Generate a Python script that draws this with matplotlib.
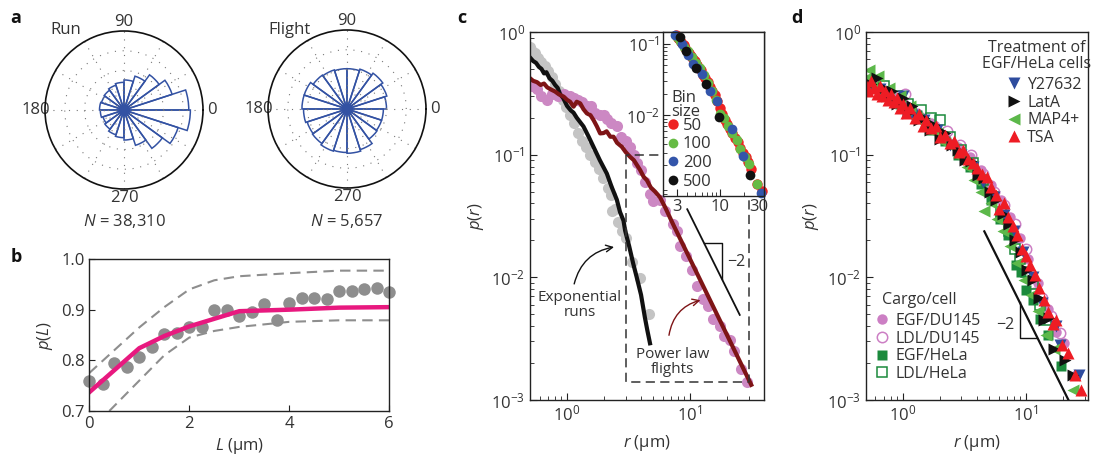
#!/usr/bin/env python3
"""
Run / flight statistics figure (panels a-d).

a: rose plots of step directions for runs and flights
b: p(L) versus run length with confidence band
c: p(r) for runs and flights (log-log) with bin-size inset
d: p(r) for several cargo / cell / treatment combinations

Output: out.png (1095 x 458 px)
"""
import matplotlib
matplotlib.use('Agg')
import matplotlib.pyplot as plt
import numpy as np
from matplotlib.ticker import LogLocator, NullFormatter

# --- Global Style Settings ---
TEXT = '#333333'
matplotlib.rcParams['font.family'] = ['Open Sans', 'DejaVu Sans']
matplotlib.rcParams['mathtext.fontset'] = 'custom'
matplotlib.rcParams['mathtext.rm'] = 'Open Sans'
matplotlib.rcParams['mathtext.it'] = 'Open Sans:italic'
matplotlib.rcParams['mathtext.default'] = 'regular'
matplotlib.rcParams.update({'font.size': 12, 'text.color': TEXT,
                            'axes.labelcolor': TEXT, 'xtick.color': '#222222',
                            'ytick.color': '#222222', 'xtick.labelcolor': TEXT,
                            'ytick.labelcolor': TEXT, 'axes.edgecolor': '#222222',
                            'axes.linewidth': 1.0})

OUTPUT_FILE = 'out.png'
W, H = 1095, 458

# ---------------- panel a: rose plots ----------------
ROSE_ANGLES = [0, 18, 36, 54, 72, 90, 108, 126, 144, 162,
               180, 198, 216, 234, 252, 270, 288, 306, 324, 342]
RUN_ROSE = [0.82, 0.64, 0.55, 0.45, 0.38, 0.35, 0.33, 0.31, 0.30, 0.31,
            0.30, 0.28, 0.30, 0.33, 0.35, 0.38, 0.47, 0.60, 0.72, 0.84]
FLIGHT_ROSE = [0.50, 0.53, 0.56, 0.53, 0.51, 0.51, 0.52, 0.53, 0.57, 0.57,
               0.55, 0.53, 0.54, 0.56, 0.55, 0.56, 0.54, 0.47, 0.46, 0.46]
THETA_LABELS = ['0', '', '', '90', '', '', '180', '', '', '270', '', '']

# ---------------- panel b: p(L) ----------------
B_L = [0, 0.27, 0.5, 0.76, 1.0, 1.25, 1.5, 1.75, 2.0, 2.25, 2.5, 2.75, 3.0,
       3.25, 3.5, 3.75, 4.0, 4.25, 4.5, 4.75, 5.0, 5.25, 5.5, 5.75, 6.0]
B_P = [0.760, 0.753, 0.794, 0.786, 0.806, 0.826, 0.851, 0.854, 0.865, 0.865,
       0.900, 0.900, 0.888, 0.896, 0.912, 0.880, 0.913, 0.923, 0.923, 0.922,
       0.936, 0.936, 0.940, 0.943, 0.935]
FIT_L = [0, 1, 1.5, 2, 2.5, 3, 4, 5, 6]
FIT_P = [0.737, 0.824, 0.848, 0.867, 0.882, 0.897, 0.900, 0.904, 0.905]
UP_L = [0, 0.5, 1, 1.5, 2, 2.5, 3, 4, 5, 6]
UP_P = [0.775, 0.820, 0.865, 0.905, 0.940, 0.958, 0.966, 0.972, 0.977, 0.977]
LO_L = [0.4, 1, 1.5, 2, 2.5, 3, 4, 5, 6]
LO_P = [0.700, 0.760, 0.810, 0.845, 0.858, 0.866, 0.876, 0.879, 0.879]

# ---------------- panel c: runs and flights ----------------
RUN_R = [0.50, 0.52, 0.55, 0.58, 0.62, 0.66, 0.70, 0.75, 0.80, 0.86,
         0.92, 0.98, 1.05, 1.13, 1.22, 1.32, 1.42, 1.55, 1.68, 1.83, 1.98,
         2.15, 2.27, 2.33, 2.45, 2.62, 2.80, 3.00, 3.37, 3.93, 4.60]
RUN_P = [0.76, 0.70, 0.68, 0.61, 0.57, 0.53, 0.48, 0.43, 0.38, 0.33,
         0.28, 0.245, 0.21, 0.18, 0.15, 0.13, 0.115, 0.10, 0.087, 0.076,
         0.064, 0.053, 0.047, 0.035, 0.036, 0.028, 0.024, 0.021, 0.0134,
         0.0098, 0.005]
RUN_FIT_R = [0.50, 0.53, 0.56, 0.59, 0.62, 0.65, 0.68, 0.72, 0.76, 0.80,
             0.84, 0.88, 0.93, 1.0, 1.07, 1.13, 1.2, 1.36, 1.5, 1.64, 1.85,
             2.11, 2.3, 2.54, 2.7, 2.88, 2.97, 3.2, 3.45, 3.69, 4.0, 4.3,
             4.5, 4.73]
RUN_FIT_P = [0.62, 0.58, 0.56, 0.52, 0.50, 0.46, 0.47, 0.42, 0.40, 0.37,
             0.35, 0.31, 0.29, 0.25, 0.23, 0.22, 0.20, 0.17, 0.14, 0.116,
             0.09, 0.07, 0.055, 0.043, 0.034, 0.029, 0.024, 0.018, 0.013,
             0.010, 0.0072, 0.0047, 0.0037, 0.0029]
FLIGHT_R = [0.52, 0.57, 0.62, 0.69, 0.75, 0.85, 0.95, 1.05, 1.13, 1.22,
            1.32, 1.45, 1.56, 1.70, 1.85, 2.0, 2.11, 2.3, 2.54, 2.75, 3.0,
            3.26, 3.5, 3.69, 4.0, 4.3, 4.73, 5.04, 5.7, 6.3, 7.3, 7.8, 8.3,
            9.2, 10.3, 11.5, 12.8, 14.0, 15.5, 17.4, 19.0, 21.0, 23.0, 26.0,
            29.0]
FLIGHT_P = [0.36, 0.34, 0.30, 0.28, 0.31, 0.30, 0.31, 0.30, 0.29, 0.28,
            0.27, 0.25, 0.25, 0.22, 0.21, 0.21, 0.197, 0.18, 0.17, 0.14, 0.13,
            0.116, 0.10, 0.085, 0.075, 0.06, 0.048, 0.042, 0.043, 0.035, 0.027,
            0.024, 0.018, 0.015, 0.0115, 0.0085, 0.0066, 0.0058, 0.0046,
            0.004, 0.0033, 0.0031, 0.0025, 0.0018, 0.0014]
FLIGHT_FIT_R = [0.50, 0.53, 0.57, 0.61, 0.65, 0.69, 0.74, 0.80, 0.86, 0.94,
                1.0, 1.06, 1.13, 1.2, 1.28, 1.36, 1.45, 1.55, 1.65, 1.75,
                1.86, 1.98, 2.1, 2.25, 2.39, 2.55, 2.79, 3.0, 3.26, 3.5, 3.93,
                4.2, 4.46, 4.8, 5.2, 5.7, 6.3, 7.3, 31.5]
FLIGHT_FIT_P = [0.42, 0.40, 0.39, 0.37, 0.38, 0.354, 0.34, 0.327, 0.31,
                0.297, 0.28, 0.27, 0.246, 0.27, 0.262, 0.235, 0.217, 0.21,
                0.19, 0.17, 0.149, 0.15, 0.155, 0.14, 0.14, 0.125, 0.116,
                0.105, 0.096, 0.09, 0.075, 0.066, 0.062, 0.054, 0.05, 0.045,
                0.037, 0.027, 0.00133]
BOX_R = [3, 3, 30, 30, 3]
BOX_P = [0.1, 0.0014, 0.0014, 0.1, 0.1]
SLOPE_C_R = [9.5, 25.4]
SLOPE_C_P = [0.0359, 0.00494]
TRI_C_R = [13.06, 18.3, 18.3]
TRI_C_P = [0.019, 0.019, 0.00968]

# inset: bin sizes
BIN50_R = [2.9, 3.05, 3.2, 3.4, 3.6, 3.8, 4.0, 4.2, 4.45, 4.7, 5.0, 5.3, 5.6,
           5.9, 6.3, 6.7, 7.1, 7.6, 8.1, 8.7, 9.3, 10.0, 10.7, 11.5, 12.4,
           13.3, 14.3, 15.4, 16.6, 17.9, 19.3, 20.8, 22.4, 24.2, 28.5, 33.5]
BIN50_P = [0.13, 0.12, 0.115, 0.105, 0.095, 0.088, 0.08, 0.075, 0.068, 0.061,
           0.057, 0.05, 0.046, 0.043, 0.037, 0.033, 0.029, 0.025, 0.022,
           0.019, 0.016, 0.0125, 0.0105, 0.0085, 0.0075, 0.0064, 0.0057,
           0.0049, 0.0042, 0.0035, 0.003, 0.0026, 0.0022, 0.0018, 0.0011,
           0.00088]
BIN100_R = [3.0, 3.3, 3.7, 4.1, 4.6, 5.1, 5.7, 6.4, 7.2, 8.0, 9.0, 10.2,
            11.3, 12.8, 14.3, 16.1, 18.0, 20.3, 22.8, 29.0]
BIN100_P = [0.125, 0.108, 0.09, 0.078, 0.064, 0.053, 0.045, 0.036, 0.028,
            0.022, 0.0165, 0.0105, 0.0092, 0.0071, 0.0057, 0.0045, 0.0034,
            0.0026, 0.0021, 0.0011]
BIN200_R = [2.86, 3.44, 4.1, 4.76, 5.3, 6.06, 7.67, 9.2, 14.1, 19.6, 32.2]
BIN200_P = [0.131, 0.1, 0.0687, 0.0526, 0.046, 0.0373, 0.0218, 0.0157,
            0.0065, 0.0027, 0.00083]
BIN500_R = [3.22, 3.91, 5.17, 6.86, 9.9, 23.3]
BIN500_P = [0.124, 0.0789, 0.0462, 0.0277, 0.0095, 0.00146]

# ---------------- panel d: cargo / cell / treatment ----------------
TSA_R = [0.5, 0.52, 0.55, 0.58, 0.62, 0.65, 0.68, 0.72, 0.76, 0.8, 0.85, 0.9,
         0.95, 1.0, 1.07, 1.15, 1.25, 1.35, 1.45, 1.55, 1.7, 1.85, 2.0, 2.2,
         2.4, 2.6, 2.85, 3.1, 3.4, 3.7, 4.0, 4.4, 4.8, 5.2, 5.7, 6.1, 6.6,
         7.2, 7.8, 8.5, 9.3, 10.1, 10.8, 11.8, 12.8, 14.0, 15.0, 16.5, 17.5,
         19.5, 22.0, 25.0, 28.0]
TSA_P = [0.37, 0.33, 0.40, 0.35, 0.31, 0.36, 0.30, 0.33, 0.28, 0.31, 0.27,
         0.29, 0.24, 0.26, 0.22, 0.24, 0.20, 0.215, 0.17, 0.19, 0.165, 0.17,
         0.14, 0.145, 0.125, 0.13, 0.105, 0.11, 0.092, 0.085, 0.078, 0.07,
         0.066, 0.055, 0.047, 0.036, 0.04, 0.031, 0.026, 0.022, 0.017, 0.015,
         0.0125, 0.0105, 0.0082, 0.0065, 0.0052, 0.0042, 0.0045, 0.0028,
         0.0024, 0.0016, 0.0012]
LATA_R = [0.5, 0.55, 0.62, 0.7, 0.75, 0.82, 0.9, 1.0, 1.1, 1.2, 1.35, 1.5,
          1.65, 1.8, 2.0, 2.2, 2.5, 2.8, 3.2, 3.6, 4.1, 4.6, 5.1, 5.7, 6.5,
          7.3, 8.2, 9.2, 10.2, 11.5, 12.8, 14.0, 15.5, 17.0, 21.0, 24.0]
LATA_P = [0.33, 0.38, 0.42, 0.35, 0.30, 0.33, 0.26, 0.29, 0.22, 0.25, 0.19,
          0.20, 0.16, 0.175, 0.135, 0.15, 0.12, 0.11, 0.09, 0.088, 0.068,
          0.064, 0.05, 0.043, 0.033, 0.027, 0.02, 0.016, 0.0115, 0.0095,
          0.0068, 0.0045, 0.0047, 0.0026, 0.0021, 0.0016]
MAP4_R = [0.5, 0.53, 0.58, 0.63, 0.7, 0.78, 0.85, 0.95, 1.05, 1.15, 1.3, 1.5,
          1.7, 1.9, 2.2, 2.5, 2.9, 3.3, 3.8, 4.3, 4.6, 5.2, 5.8, 6.5, 7.4,
          8.5, 9.6, 11.0, 12.5, 14.5, 17.0, 24.0]
MAP4_P = [0.42, 0.49, 0.36, 0.44, 0.31, 0.35, 0.27, 0.30, 0.23, 0.25, 0.20,
          0.18, 0.155, 0.15, 0.125, 0.115, 0.095, 0.08, 0.062, 0.05, 0.035,
          0.04, 0.03, 0.024, 0.018, 0.013, 0.0095, 0.0072, 0.0053, 0.0034,
          0.0026, 0.0012]
Y276_R = [0.55, 0.65, 0.8, 1.0, 1.2, 1.5, 1.9, 2.4, 3.0, 3.7, 4.5, 5.5, 6.6,
          8.0, 9.5, 11.5, 13.5, 17.5, 19.0, 27.0]
Y276_P = [0.38, 0.34, 0.27, 0.30, 0.21, 0.19, 0.16, 0.12, 0.10, 0.08, 0.06,
          0.045, 0.032, 0.024, 0.016, 0.01, 0.0062, 0.004, 0.0028, 0.0016]
EGF_DU_R = [0.6, 0.8, 1.0, 1.3, 1.7, 2.2, 2.8, 3.5, 4.3, 5.2, 6.3, 7.5, 9.0,
            10.5, 12.5, 15.0, 17.5, 20.5, 25.4]
EGF_DU_P = [0.37, 0.31, 0.27, 0.22, 0.18, 0.14, 0.115, 0.095, 0.075, 0.057,
            0.043, 0.031, 0.021, 0.014, 0.009, 0.0055, 0.0036, 0.0029, 0.0016]
LDL_DU_R = [0.65, 0.85, 1.05, 1.4, 1.8, 2.3, 2.9, 3.6, 4.5, 5.5, 6.7, 8.2,
            10.0, 11.7, 13.5, 16.0, 19.0]
LDL_DU_P = [0.33, 0.29, 0.31, 0.20, 0.17, 0.155, 0.12, 0.10, 0.07, 0.05,
            0.039, 0.027, 0.017, 0.0075, 0.0068, 0.0048, 0.0035]
EGF_HE_R = [0.55, 0.75, 0.95, 1.3, 1.7, 2.2, 2.8, 3.5, 4.3, 5.2, 6.2, 7.2,
            8.3, 9.2, 10.0, 11.5, 13.0, 15.0, 19.2]
EGF_HE_P = [0.40, 0.31, 0.26, 0.21, 0.16, 0.13, 0.10, 0.08, 0.058, 0.043,
            0.03, 0.022, 0.0126, 0.011, 0.0079, 0.0065, 0.0046, 0.0034, 0.0019]
LDL_HE_R = [0.6, 0.7, 0.9, 1.1, 1.4, 1.7, 2.0, 2.4, 3.0, 3.7, 4.5, 5.4, 6.3,
            7.3, 8.2, 9.0, 10.0, 11.5, 13.0, 14.5]
LDL_HE_P = [0.40, 0.36, 0.30, 0.26, 0.23, 0.20, 0.19, 0.14, 0.11, 0.085,
            0.062, 0.045, 0.034, 0.024, 0.017, 0.014, 0.011, 0.0088, 0.006,
            0.0045]
SLOPE_D_R = [4.6, 22.2]
SLOPE_D_P = [0.0237, 0.001]
TRI_D_R = [8.94, 8.94, 12.4]
TRI_D_P = [0.0063, 0.0032, 0.0032]

LOG_Y_TICKS = [1e-3, 1e-2, 1e-1, 1]
LOG_Y_LABELS = ['$10^{-3}$', '$10^{-2}$', '$10^{-1}$', '$10^{0}$']

# colours
BLUE = '#3352a3'
GRAY_B = '#8e8e8e'
MAGENTA = '#e8197f'
GRAY_C = '#c4c4c4'
PINK = '#cc88c3'
DARK_RED = '#7e1416'


def px_box(left, top, right, bottom):
    """Axes rectangle from pixel edges of the 1095x458 canvas."""
    return [left / W, 1 - bottom / H, (right - left) / W, (bottom - top) / H]


def draw_rose(fig, box, radii):
    ax = fig.add_axes(box, projection='polar')
    ax.bar(np.deg2rad(ROSE_ANGLES), radii, width=np.deg2rad(18), align='edge',
           fill=False, edgecolor=BLUE, linewidth=1.1)
    ax.plot([0], [0], 'o', color=BLUE, ms=7)
    ax.set_ylim(0, 1)
    ax.set_rgrids([0.25, 0.5, 0.75], labels=[])
    ax.set_thetagrids(range(0, 360, 30), labels=THETA_LABELS)
    ax.grid(True, ls=(0, (1, 6)), color='#777777', lw=0.8)
    ax.spines['polar'].set_linewidth(1.2)
    ax.spines['polar'].set_color('#111111')
    ax.tick_params(axis='x', pad=-4, labelsize=12)
    return ax


def style_log(ax, xlim, ylim):
    ax.set_xscale('log')
    ax.set_yscale('log')
    ax.set_xlim(*xlim)
    ax.set_ylim(*ylim)
    ax.xaxis.set_minor_locator(LogLocator(base=10, subs=np.arange(2, 10)))
    ax.yaxis.set_minor_locator(LogLocator(base=10, subs=np.arange(2, 10)))
    ax.xaxis.set_minor_formatter(NullFormatter())
    ax.yaxis.set_minor_formatter(NullFormatter())
    ax.tick_params(which='both', direction='in', top=False, right=False,
                   labelsize=12)
    ax.tick_params(which='major', length=5)
    ax.tick_params(which='minor', length=3)


def main():
    fig = plt.figure(figsize=(W / 100, H / 100), dpi=100)

    # ---- a ----
    draw_rose(fig, px_box(45, 31, 203, 189), RUN_ROSE)
    draw_rose(fig, px_box(268, 30, 426, 188), FLIGHT_ROSE)
    fig.text(66 / W, 1 - 30 / H, 'Run', ha='center', va='center', fontsize=12)
    fig.text(290 / W, 1 - 30 / H, 'Flight', ha='center', va='center', fontsize=12)
    fig.text(124 / W, 1 - 221 / H, '$\\mathit{N}$ = 38,310', ha='center',
             va='center', fontsize=12)
    fig.text(347 / W, 1 - 221 / H, '$\\mathit{N}$ = 5,657', ha='center',
             va='center', fontsize=12)

    # ---- b ----
    axb = fig.add_axes(px_box(89.3, 259, 389.3, 411))
    dash = (0, (5, 3))
    axb.plot(UP_L, UP_P, color=GRAY_B, lw=1.5, ls=dash)
    axb.plot(LO_L, LO_P, color=GRAY_B, lw=1.5, ls=dash)
    axb.plot(B_L, B_P, 'o', color=GRAY_B, ms=9, mec='none', clip_on=False)
    axb.plot(FIT_L, FIT_P, color=MAGENTA, lw=3.2)
    axb.set_xlim(0, 6)
    axb.set_ylim(0.7, 1.0)
    axb.set_xticks([0, 2, 4, 6])
    axb.set_yticks([0.7, 0.8, 0.9, 1.0])
    axb.set_yticklabels(['0.7', '0.8', '0.9', '1.0'])
    axb.tick_params(direction='in', length=4, labelsize=12, top=False, right=False)
    axb.set_xlabel('$\\mathit{L}$ (\u03bcm)', fontsize=12, labelpad=3)
    axb.set_ylabel('$\\mathit{p}$($\\mathit{L}$)', fontsize=12, labelpad=4)

    # ---- c ----
    axc = fig.add_axes(px_box(530, 32, 764, 400))
    axc.plot(RUN_R, RUN_P, 'o', color=GRAY_C, ms=8, mec='none')
    axc.plot(FLIGHT_R, FLIGHT_P, 'o', color=PINK, ms=8, mec='none')
    axc.plot(RUN_FIT_R, RUN_FIT_P, color='#111111', lw=3)
    axc.plot(FLIGHT_FIT_R, FLIGHT_FIT_P, color=DARK_RED, lw=3)
    axc.plot(BOX_R, BOX_P, color='#333333', lw=1.1, ls=(0, (6, 3.5)))
    axc.plot(SLOPE_C_R, SLOPE_C_P, color='#111111', lw=1.3)
    axc.plot(TRI_C_R, TRI_C_P, color='#111111', lw=1.0)
    axc.text(23.6, 0.0134, '\u22122', ha='center', va='center', fontsize=11.5)
    axc.text(1.275, 0.0059, 'Exponential\nruns', ha='center', va='center',
             fontsize=11, linespacing=1.0)
    axc.text(7.2, 0.00204, 'Power law\nflights', ha='center', va='center',
             fontsize=11, linespacing=1.0)
    axc.annotate('', xy=(2.54, 0.0178), xytext=(1.13, 0.0084),
                 arrowprops=dict(arrowstyle='->', color='#111111', lw=1.0,
                                 connectionstyle='arc3,rad=-0.35'))
    axc.annotate('', xy=(12.8, 0.0066), xytext=(6.7, 0.0032),
                 arrowprops=dict(arrowstyle='->', color=DARK_RED, lw=1.0,
                                 connectionstyle='arc3,rad=-0.35'))
    style_log(axc, (0.5, 40), (1e-3, 1))
    axc.set_xticks([1, 10])
    axc.set_xticklabels(['$10^{0}$', '$10^{1}$'])
    axc.set_yticks(LOG_Y_TICKS)
    axc.set_yticklabels(LOG_Y_LABELS)
    axc.set_xlabel('$\\mathit{r}$ (\u03bcm)', fontsize=12, labelpad=6)
    axc.set_ylabel('$\\mathit{p}$($\\mathit{r}$)', fontsize=12, labelpad=4)

    # inset
    axi = fig.add_axes(px_box(662.7, 32, 764, 196))
    h50, = axi.plot(BIN50_R, BIN50_P, 'o', color='#ee2222', ms=7.5, mec='none',
                    label='50', clip_on=False)
    h100, = axi.plot(BIN100_R, BIN100_P, 'o', color='#66bb44', ms=7, mec='none',
                     label='100', clip_on=False)
    h200, = axi.plot(BIN200_R, BIN200_P, 'o', color='#3355aa', ms=7, mec='none',
                     label='200', clip_on=False)
    h500, = axi.plot(BIN500_R, BIN500_P, 'o', color='#111111', ms=7, mec='none',
                     label='500', clip_on=False)
    style_log(axi, (2.0, 35), (7.5e-4, 0.145))
    axi.set_xticks([3, 10, 30])
    axi.set_xticklabels(['3', '10', '30'])
    axi.set_yticks([1e-2, 1e-1])
    axi.set_yticklabels(['$10^{-2}$', '$10^{-1}$'])
    axi.tick_params(axis='x', pad=2)
    axi.tick_params(axis='y', pad=2)
    fig.text(671 / W, 1 - 105 / H, 'Bin\nsize', ha='left', va='center',
             fontsize=12, linespacing=0.85)
    axi.legend(handles=[h50, h100, h200, h500], loc='upper left',
               bbox_to_anchor=(668 / W, 1 - 118 / H), bbox_transform=fig.transFigure,
               frameon=False, fontsize=12, handlelength=0.6, handletextpad=0.3,
               labelspacing=0.15, borderpad=0, borderaxespad=0, numpoints=1)

    # ---- d ----
    axd = fig.add_axes(px_box(865.7, 32, 1088, 400))
    hs = {}
    hs['egf_du'], = axd.plot(EGF_DU_R, EGF_DU_P, 'o', color='#cc7fc4', ms=7.5,
                             mec='none', label='EGF/DU145')
    hs['ldl_du'], = axd.plot(LDL_DU_R, LDL_DU_P, 'o', mfc='none', mec='#cc7fc4',
                             ms=7.5, mew=1.1, label='LDL/DU145')
    hs['egf_he'], = axd.plot(EGF_HE_R, EGF_HE_P, 's', color='#1b8a3c', ms=6.5,
                             mec='none', label='EGF/HeLa')
    hs['ldl_he'], = axd.plot(LDL_HE_R, LDL_HE_P, 's', mfc='none', mec='#1b8a3c',
                             ms=6.5, mew=1.1, label='LDL/HeLa')
    hs['y276'], = axd.plot(Y276_R, Y276_P, 'v', color='#2e4c9e', ms=8.5,
                           mec='none', label='Y27632')
    hs['map4'], = axd.plot(MAP4_R, MAP4_P, '<', color='#5cb84a', ms=8.5,
                           mec='none', label='MAP4+')
    hs['lata'], = axd.plot(LATA_R, LATA_P, '>', color='#111111', ms=8.5,
                           mec='none', label='LatA')
    hs['tsa'], = axd.plot(TSA_R, TSA_P, '^', color='#ee1c24', ms=8.5,
                          mec='none', label='TSA')
    axd.plot(SLOPE_D_R, SLOPE_D_P, color='#111111', lw=1.6)
    axd.plot(TRI_D_R, TRI_D_P, color='#111111', lw=1.0)
    axd.text(8.0, 0.0041, '\u22122', ha='right', va='center', fontsize=11.5)
    style_log(axd, (0.5, 32), (1e-3, 1))
    axd.set_xticks([1, 10])
    axd.set_xticklabels(['$10^{0}$', '$10^{1}$'])
    axd.set_yticks(LOG_Y_TICKS)
    axd.set_yticklabels(LOG_Y_LABELS)
    axd.set_xlabel('$\\mathit{r}$ (\u03bcm)', fontsize=12, labelpad=6)
    axd.set_ylabel('$\\mathit{p}$($\\mathit{r}$)', fontsize=12, labelpad=4)

    fig.text(1037 / W, 1 - 56 / H, 'Treatment of\nEGF/HeLa cells', ha='center',
             va='center', fontsize=11.5, linespacing=1.0)
    leg1 = axd.legend(handles=[hs['y276'], hs['lata'], hs['map4'], hs['tsa']],
                      loc='upper left', bbox_to_anchor=(1008 / W, 1 - 77 / H),
                      bbox_transform=fig.transFigure, frameon=False,
                      fontsize=11.5, handlelength=0.8, handletextpad=0.4,
                      labelspacing=0.1, borderpad=0, borderaxespad=0, numpoints=1)
    axd.add_artist(leg1)
    fig.text(882 / W, 1 - 300 / H, 'Cargo/cell', ha='left', va='center',
             fontsize=11.5)
    axd.legend(handles=[hs['egf_du'], hs['ldl_du'], hs['egf_he'], hs['ldl_he']],
               loc='upper left', bbox_to_anchor=(876 / W, 1 - 313 / H),
               bbox_transform=fig.transFigure, frameon=False, fontsize=11.5,
               handlelength=0.8, handletextpad=0.4, labelspacing=0.1,
               borderpad=0, borderaxespad=0, numpoints=1)

    # panel letters
    for x, y, s in [(16, 18, 'a'), (16, 257, 'b'), (462, 18, 'c'), (797, 18, 'd')]:
        fig.text(x / W, 1 - y / H, s, ha='center', va='center', fontsize=13,
                 fontweight='bold', color='#111111')

    fig.savefig(OUTPUT_FILE, dpi=100)
    plt.close(fig)


if __name__ == '__main__':
    main()
